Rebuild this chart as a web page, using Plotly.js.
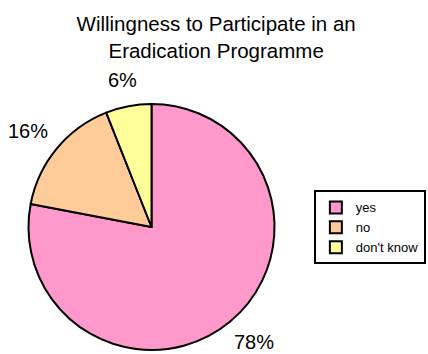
<!DOCTYPE html>
<html><head><meta charset="utf-8">
<script src="https://cdn.plot.ly/plotly-3.0.1.min.js"></script>
<style>html,body{margin:0;padding:0;background:#fff}#chart{width:428px;height:354px}</style>
</head><body><div id="chart"></div>
<script>
const categories = ["yes", "no", "don't know"];
const values = [78, 16, 6];
const colors = ["#FF99CC", "#FFCC99", "#FFFF99"];

const W = 428, H = 354;
const FONT = "Liberation Sans, Arial, sans-serif";
const pieDomain = {x: [0.0666, 0.6414], y: [0.0113, 0.7062]};

const pie = {
  type: "pie",
  labels: categories,
  values: values,
  sort: false,
  direction: "clockwise",
  rotation: 0,
  marker: {colors: colors, line: {color: "#000", width: 2}},
  textinfo: "none",
  domain: pieDomain,
  automargin: false,
  hoverinfo: "none"
};

// percentage labels placed outside the pie, derived from the values
const total = values.reduce((a, b) => a + b, 0);
const cxPx = (pieDomain.x[0] + pieDomain.x[1]) / 2 * W;
const cyPx = (1 - (pieDomain.y[0] + pieDomain.y[1]) / 2) * H;
const rPx = Math.min((pieDomain.x[1] - pieDomain.x[0]) * W, (pieDomain.y[1] - pieDomain.y[0]) * H) / 2;
const labelSize = 20;
const ctx = document.createElement("canvas").getContext("2d");
ctx.font = labelSize + "px 'Liberation Sans'";
let cum = 0;
const annotations = values.map(v => {
  const mid = (cum + v / 2) / total; cum += v;
  const th = 2 * Math.PI * mid;
  const sx = Math.sin(th), sy = -Math.cos(th);
  const txt = Math.round(v / total * 100) + "%";
  const hw = ctx.measureText(txt).width / 2, hh = 9;
  const d = rPx * 1.145;
  const px = cxPx + d * sx + sx * hw;
  const py = cyPx + d * sy + sy * hh;
  return {
    text: txt, showarrow: false, xref: "paper", yref: "paper",
    x: px / W, y: 1 - py / H, xanchor: "center", yanchor: "middle",
    font: {family: FONT, size: labelSize, color: "#000"}
  };
});

const layout = {
  width: W, height: H,
  margin: {l: 0, r: 0, t: 0, b: 0},
  paper_bgcolor: "#fff",
  title: {
    text: "Willingness to Participate in an<br>Eradication Programme",
    font: {family: FONT, size: 20.5, color: "#000"},
    x: 0.505, xanchor: "center", y: 0.912, yanchor: "middle"
  },
  annotations: annotations,
  showlegend: true,
  legend: {
    x: 0.995, xanchor: "right", y: 0.462, yanchor: "top",
    bordercolor: "#000", borderwidth: 2, bgcolor: "#fff",
    font: {family: FONT, size: 13, color: "#000"},
    itemwidth: 30,
    traceorder: "normal"
  }
};

Plotly.newPlot("chart", [pie], layout, {displayModeBar: false, staticPlot: true});
</script></body></html>
